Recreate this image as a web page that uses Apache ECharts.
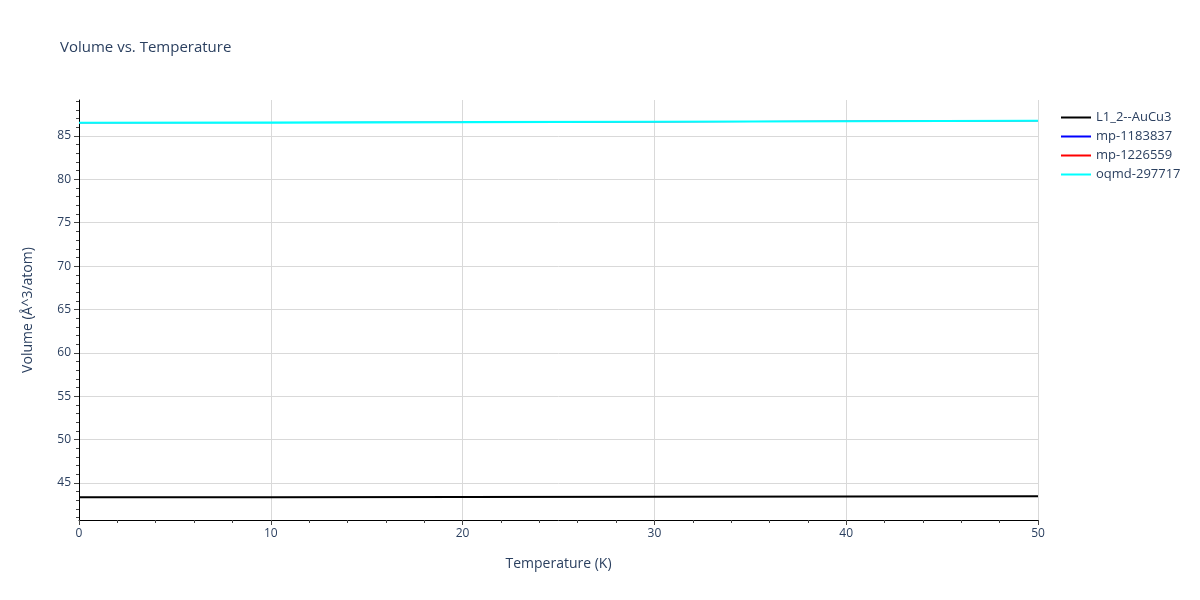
<!DOCTYPE html>
<html>
<head>
<meta charset="utf-8">
<script src="https://cdn.jsdelivr.net/npm/echarts@6/dist/echarts.min.js"></script>
<style>
  html, body { margin: 0; padding: 0; background: #fff; }
  #chart { width: 1200px; height: 600px; }
</style>
</head>
<body>
<div id="chart"></div>
<script>
const temperature = [0, 10, 20, 30, 40, 50]
const seriesNames = ['L1_2--AuCu3', 'mp-1183837', 'mp-1226559', 'oqmd-297717']
const seriesColors = ['#000000', '#0000ff', '#ff0000', '#00ffff']
const volAuCu3 = [43.34, 43.35, 43.37, 43.40, 43.43, 43.46]
const volMp1183837 = [86.53, 86.55, 86.59, 86.64, 86.70, 86.76]
const volMp1226559 = [86.53, 86.55, 86.59, 86.64, 86.70, 86.76]
const volOqmd = [86.53, 86.55, 86.59, 86.64, 86.70, 86.76]
const yMajorTicks = [45, 50, 55, 60, 65, 70, 75, 80, 85]
const yMinorTicks = [41, 42, 43, 44, 46, 47, 48, 49, 51, 52, 53, 54, 56, 57, 58, 59,
  61, 62, 63, 64, 66, 67, 68, 69, 71, 72, 73, 74, 76, 77, 78, 79, 81, 82, 83, 84, 86, 87, 88, 89]

const allValues = [volAuCu3, volMp1183837, volMp1226559, volOqmd]
const lineWidths = [2, 1, 1, 2.2]
const textColor = '#2a3f5f'
const font = '"Open Sans", Verdana, Arial, sans-serif'

const chart = echarts.init(document.getElementById('chart'))

const yRange = { min: 40.73, max: 89.15 }

chart.setOption({
  animation: false,
  backgroundColor: '#fff',
  title: {
    text: 'Volume vs. Temperature',
    left: 55,
    top: 35,
    textStyle: { color: textColor, fontSize: 15, fontWeight: 'normal', fontFamily: font }
  },
  legend: {
    orient: 'vertical',
    left: 1056,
    top: 106,
    itemWidth: 30,
    itemHeight: 2,
    itemGap: 6,
    icon: 'rect',
    textStyle: { color: textColor, fontSize: 13, fontFamily: font },
    data: seriesNames
  },
  grid: { left: 79, right: 162, top: 100, bottom: 80, containLabel: false },
  xAxis: {
    type: 'value',
    min: 0,
    max: 50,
    interval: 10,
    name: 'Temperature (K)',
    nameLocation: 'middle',
    nameGap: 37,
    nameTextStyle: { color: textColor, fontSize: 14, fontFamily: font },
    axisLine: { show: true, onZero: false, lineStyle: { color: '#000', width: 1 } },
    axisTick: { show: true, length: 5, lineStyle: { color: '#444' } },
    minorTick: { show: true, splitNumber: 5, length: 3, lineStyle: { color: '#444' } },
    axisLabel: { color: textColor, fontSize: 12, fontFamily: font, margin: 8 },
    splitLine: { show: true, lineStyle: { color: '#d9d9d9', width: 1 } }
  },
  yAxis: [
    {
      type: 'value',
      min: yRange.min,
      max: yRange.max,
      name: 'Volume (Å^3/atom)',
      nameLocation: 'middle',
      nameGap: 44,
      nameTextStyle: { color: textColor, fontSize: 14, fontFamily: font },
      axisLine: { show: true, onZero: false, lineStyle: { color: '#000', width: 1 } },
      axisTick: { show: true, length: 5, customValues: yMajorTicks, lineStyle: { color: '#444' } },
      axisLabel: { color: textColor, fontSize: 12, fontFamily: font, margin: 8, customValues: yMajorTicks },
      splitLine: { show: true, lineStyle: { color: '#d9d9d9', width: 1 } }
    },
    {
      type: 'value',
      min: yRange.min,
      max: yRange.max,
      position: 'left',
      axisLine: { show: false },
      axisTick: { show: true, length: 3, customValues: yMinorTicks, lineStyle: { color: '#444' } },
      axisLabel: { show: false },
      splitLine: { show: false }
    }
  ],
  series: seriesNames.map((name, i) => ({
    name,
    type: 'line',
    yAxisIndex: 0,
    showSymbol: false,
    symbol: 'none',
    lineStyle: { width: lineWidths[i], color: seriesColors[i] },
    itemStyle: { color: seriesColors[i] },
    data: temperature.map((t, j) => [t, allValues[i][j]])
  }))
})
</script>
</body>
</html>
